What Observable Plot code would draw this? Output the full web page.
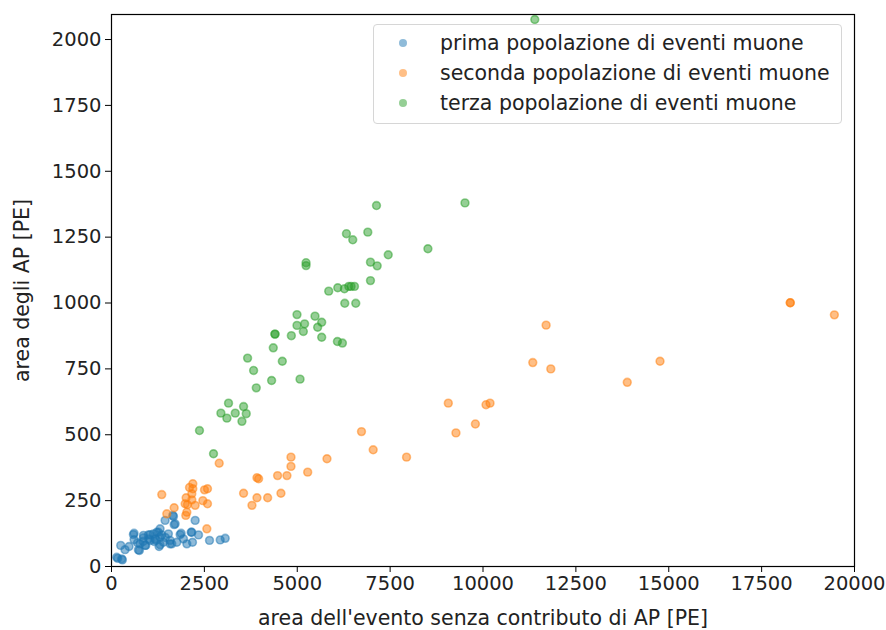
<!DOCTYPE html>
<html>
<head>
<meta charset="utf-8">
<script src="https://cdn.jsdelivr.net/npm/d3@7"></script>
<script src="https://cdn.jsdelivr.net/npm/@observablehq/plot@0.6"></script>
<style>
  html, body { margin: 0; padding: 0; background: #fff; }
  #wrap { position: relative; width: 886px; height: 630px; font-family: "DejaVu Sans", sans-serif; }
  #legend { position: absolute; left: 373px; top: 24px; width: 467px; height: 98px;
    border: 1px solid #d6d6d6; border-radius: 4px; background: rgba(255,255,255,0.8);
    font-size: 20.5px; color: #222; }
  .row { position: absolute; left: 0; height: 30px; line-height: 30px; white-space: nowrap; }
  .sw { position: absolute; left: 25px; top: 11px; width: 8px; height: 8px; border-radius: 50%; }
  .lb { position: absolute; left: 66px; top: 0; }
</style>
</head>
<body>
<div id="wrap"></div>
<script>
const seriesNames = ["prima popolazione di eventi muone", "seconda popolazione di eventi muone", "terza popolazione di eventi muone"];
const seriesColors = ["#1f77b4", "#ff7f0e", "#2ca02c"];

const primaX = [167,292,140,274,248,364,472,589,607,607,724,751,769,859,859,904,922,994,1038,1038,1128,1173,1218,1263,1281,1308,1308,1308,1398,1443,1532,1578,1578,1623,1650,1667,1686,1713,1758,1847,1874,1937,2028,2144,2162,2180,2252,2342,2638,2926,3061,1000,1150,1350,1450,1200,700,850];
const primaY = [31,25,35,29,80,64,76,121,126,102,63,61,86,109,118,80,80,120,99,121,124,105,130,130,76,111,143,83,92,175,124,99,86,86,194,190,159,162,92,121,126,105,86,130,130,92,175,120,99,101,107,105,95,120,110,100,90,95];

const secondaX = [1353,1488,1686,2009,2045,2000,1982,2028,2189,2189,2162,2162,2252,2503,2584,2459,2584,2566,2899,3555,3781,3915,3915,3960,4203,4471,4561,4723,4831,4831,5281,5800,6729,7044,7942,9066,9272,9795,10081,10189,11340,11699,11825,13883,14765,18271,18271,19458,2100];
const secondaY = [273,200,223,261,235,194,238,206,314,295,253,276,232,291,295,250,238,143,392,278,232,261,337,333,261,345,278,345,380,415,358,409,512,443,415,620,507,541,614,620,774,916,750,699,779,1001,1001,955,300];

const terzaX = [2368,2746,2945,3106,3150,3331,3511,3555,3627,3663,3825,3897,4310,4355,4400,4400,4598,4841,4993,4993,5075,5164,5198,5237,5237,5478,5549,5658,5658,5847,6081,6090,6216,6270,6279,6324,6387,6450,6494,6540,6575,6899,6971,6971,7133,7152,7449,8517,9515,11394];
const terzaY = [516,428,582,563,620,582,551,607,580,791,744,678,706,830,882,882,779,876,956,915,711,892,921,1153,1142,950,908,927,870,1045,854,1058,848,1054,999,1263,1063,1063,1240,1063,999,1269,1155,1085,1370,1141,1183,1206,1380,2076];

const xTicks = [0,2500,5000,7500,10000,12500,15000,17500,20000];
const yTicks = [0,250,500,750,1000,1250,1500,1750,2000];
const xLabel = "area dell'evento senza contributo di AP [PE]";
const yLabel = "area degli AP [PE]";

const toRows = (xs, ys) => xs.map((x, i) => ({x, y: ys[i]}));
const sets = [toRows(primaX, primaY), toRows(secondaX, secondaY), toRows(terzaX, terzaY)];

const dotMarks = sets.map((d, i) => Plot.dot(d, {
  x: "x", y: "y", r: 3.9, fill: seriesColors[i], fillOpacity: 0.5,
  stroke: seriesColors[i], strokeOpacity: 0.5, strokeWidth: 1.6, clip: true
}));

const chart = Plot.plot({
  width: 886, height: 630,
  marginLeft: 111, marginRight: 32, marginTop: 14, marginBottom: 64,
  style: {fontFamily: "DejaVu Sans, sans-serif", fontSize: "19.5px", color: "#000", background: "#fff"},
  x: {domain: [0, 20000]},
  y: {domain: [0, 2095]},
  marks: [
    ...dotMarks,
    Plot.frame({stroke: "#000", strokeWidth: 1.2}),
    Plot.axisX({ticks: xTicks, tickFormat: d => String(d), tickSize: 6, tickPadding: 4, stroke: "#000", fill: "#222", fontSize: 19.5, label: null}),
    Plot.axisX({ticks: [], label: xLabel, labelAnchor: "center", labelArrow: "none", labelOffset: 58, fill: "#222", fontSize: 20.5}),
    Plot.axisY({ticks: yTicks, tickFormat: d => String(d), tickSize: 6, tickPadding: 4, stroke: "#000", fill: "#222", fontSize: 19.5, label: null}),
    Plot.axisY({ticks: [], label: yLabel, labelAnchor: "center", labelArrow: "none", labelOffset: 97, fill: "#222", fontSize: 20.5})
  ]
});

const wrap = document.getElementById("wrap");
wrap.appendChild(chart);

const legend = document.createElement("div");
legend.id = "legend";
seriesNames.forEach((name, i) => {
  const row = document.createElement("div");
  row.className = "row";
  row.style.top = (3 + i * 30) + "px";
  const sw = document.createElement("span");
  sw.className = "sw";
  sw.style.background = seriesColors[i];
  sw.style.opacity = 0.5;
  const lb = document.createElement("span");
  lb.className = "lb";
  lb.textContent = name;
  row.appendChild(sw); row.appendChild(lb);
  legend.appendChild(row);
});
wrap.appendChild(legend);
</script>
</body>
</html>
